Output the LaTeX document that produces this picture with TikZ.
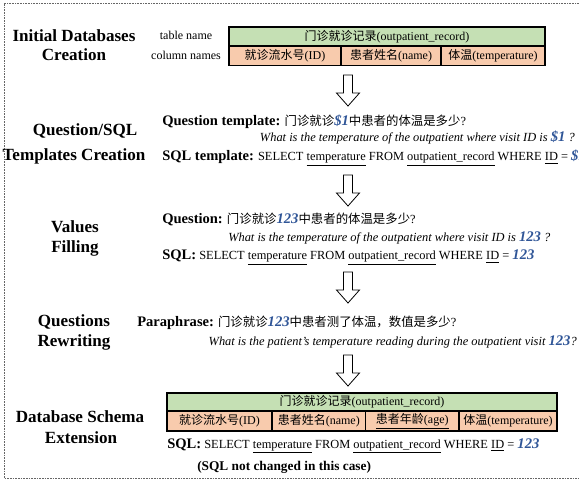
\documentclass[tikz,border=0pt]{standalone}
\usepackage{fontspec}
\setmainfont{Liberation Serif}
\newfontfamily\cjk{Noto Sans CJK SC}
\definecolor{valblue}{HTML}{2F5597}
\definecolor{hdrgreen}{HTML}{C5E0B4}
\definecolor{colorange}{HTML}{F8CBAD}
\newcommand\zh[1]{{\cjk #1}}
\newcommand\val[1]{{\fontsize{11pt}{12pt}\selectfont\bfseries\itshape\color{valblue}#1}}
\newcommand\lab[1]{{\fontsize{10.9pt}{12pt}\selectfont\bfseries #1}}
\newcommand\blockdown[1]{\draw[arrowbox] (343.5,#1) -- (352.5,#1) -- (352.5,{#1+18}) -- (359.5,{#1+18}) -- (348,{#1+31}) -- (336.5,{#1+18}) -- (343.5,{#1+18}) -- cycle;}
\tikzset{
  stagelbl/.style={font=\fontsize{12.8pt}{14pt}\selectfont\bfseries, inner sep=0pt, anchor=base},
  sidelbl/.style={font=\fontsize{9pt}{10pt}\selectfont, inner sep=0pt, anchor=base},
  line/.style={font=\fontsize{9.3pt}{11pt}\selectfont, inner sep=0pt, anchor=base west},
  cell/.style={font=\fontsize{9pt}{10pt}\selectfont, inner sep=0pt},
  gcell/.style={draw=black, line width=0.8pt, fill=hdrgreen},
  ocell/.style={draw=black, line width=0.8pt, fill=colorange},
  arrowbox/.style={draw=black, line width=0.6pt, fill=white},
  frame/.style={draw=black!60, line width=0.5pt, dash pattern=on 1.2pt off 0.8pt}
}
\begin{document}
\begin{tikzpicture}[x=0.75pt,y=-0.75pt]
\useasboundingbox (0,0) rectangle (579,481);
% frame
\draw[frame] (579,3) -- (4,3) -- (4,478) -- (579,478);

% stage labels
\node[stagelbl] (s1a) at (74,42) {Initial Databases};
\node[stagelbl] (s1b) at (74,61) {Creation};
\node[stagelbl] (s2a) at (85,136) {Question/SQL};
\node[stagelbl] (s2b) at (74,161) {Templates Creation};
\node[stagelbl] (s3a) at (75,233) {Values};
\node[stagelbl] (s3b) at (75,253) {Filling};
\node[stagelbl] (s4a) at (74,327) {Questions};
\node[stagelbl] (s4b) at (74,347) {Rewriting};
\node[stagelbl] (s5a) at (80,422) {Database Schema};
\node[stagelbl] (s5b) at (81,443) {Extension};

% table 1
\node[sidelbl] (tn) at (186,39.5) {table name};
\node[sidelbl] (cn) at (186,59.5) {column names};
\draw[gcell] (229,27) rectangle (545,46);
\draw[ocell] (229,46) rectangle (341,65.5);
\draw[ocell] (341,46) rectangle (441,65.5);
\draw[ocell] (441,46) rectangle (545,65.5);
\node[cell] (t1h) at (387,36.5) {\zh{门诊就诊记录}(outpatient\_record)};
\node[cell] (t1c1) at (285,55.8) {\zh{就诊流水号}(ID)};
\node[cell] (t1c2) at (391,55.8) {\zh{患者姓名}(name)};
\node[cell] (t1c3) at (493,55.8) {\zh{体温}(temperature)};

\blockdown{75}

% templates
\node[line] (qt) at (162,125.5) {\lab{Question template:} \zh{门诊就诊}\val{\$1}\zh{中患者的体温是多少}?};
\node[line, anchor=base east] (qte) at (575,142) {\itshape What is the temperature of the outpatient where visit ID is \val{\$1} ?};
\node[line] (st) at (162,161) {\lab{SQL template:} SELECT \underline{temperature} FROM \underline{outpatient\_record} WHERE \underline{ID} = \val{\$1}};

\blockdown{175}

% values filling
\node[line] (q) at (162,224) {\lab{Question:} \zh{门诊就诊}\val{123}\zh{中患者的体温是多少}?};
\node[line] (qe) at (228,242) {\itshape What is the temperature of the outpatient where visit ID is \val{123} ?};
\node[line] (sq) at (162,260) {\lab{SQL:} SELECT \underline{temperature} FROM \underline{outpatient\_record} WHERE \underline{ID} = \val{123}};

\blockdown{272}

% rewriting
\node[line] (pp) at (137,327) {\lab{Paraphrase:} \zh{门诊就诊}\val{123}\zh{中患者测了体温，数值是多少}?};
\node[line, anchor=base east] (ppe) at (577,345) {\itshape What is the patient's temperature reading during the outpatient visit \val{123}?};

\blockdown{355}

% table 2
\draw[gcell] (167,393) rectangle (557,411);
\draw[ocell] (167,411) rectangle (272,431);
\draw[ocell] (272,411) rectangle (365.6,431);
\draw[ocell] (365.6,411) rectangle (459,431);
\draw[ocell] (459,411) rectangle (557,431);
\node[cell] (t2h) at (362,402) {\zh{门诊就诊记录}(outpatient\_record)};
\node[cell] (t2c1) at (219.5,421) {\zh{就诊流水号}(ID)};
\node[cell] (t2c2) at (318.8,421) {\zh{患者姓名}(name)};
\node[cell] (t2c3) at (412.3,421) {\underline{\zh{患者年龄}(age)}};
\node[cell] (t2c4) at (508,421) {\zh{体温}(temperature)};

\node[line] (sq2) at (167,448) {\lab{SQL:} SELECT \underline{temperature} FROM \underline{outpatient\_record} WHERE \underline{ID} = \val{123}};
\node[line, font=\fontsize{10pt}{11pt}\selectfont\bfseries] (note) at (197,470) {(SQL not changed in this case)};
\end{tikzpicture}
\end{document}
